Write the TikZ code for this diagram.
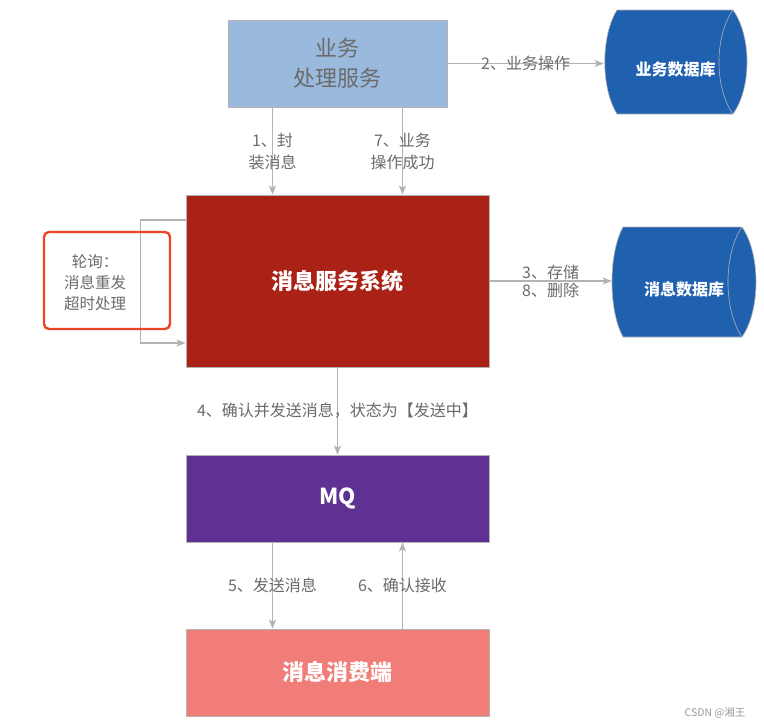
\documentclass[tikz,border=0pt]{standalone}
\usepackage{fontspec}
\setmainfont{Noto Sans CJK SC}
\usetikzlibrary{arrows.meta}
\definecolor{bizblue}{HTML}{99BADD}
\definecolor{svcred}{HTML}{AA2116}
\definecolor{mqpurple}{HTML}{5E3192}
\definecolor{consred}{HTML}{F07D78}
\definecolor{dbblue}{HTML}{1F60AF}
\definecolor{linegray}{HTML}{B3B3B3}
\definecolor{txtgray}{HTML}{6B6B6B}
\definecolor{alertred}{HTML}{EE4426}
\begin{document}
\begin{tikzpicture}[x=1pt,y=-1pt,
  box/.style={draw=linegray, line width=0.8pt, minimum width=303pt, minimum height=87pt, inner sep=0pt, text=white, font=\fontsize{22}{26}\selectfont\bfseries},
  lbl/.style={text=txtgray, align=center, font=\fontsize{16}{22}\selectfont},
  arr/.style={draw=linegray, line width=1.2pt, ->, >={Stealth[length=9pt,width=7pt,inset=2pt]}},
  dbtxt/.style={minimum height=104pt, inner sep=0pt, text=white, font=\fontsize{16}{20}\selectfont\bfseries},
  cyl/.style={fill=dbblue, draw=linegray, line width=0.6pt}]
    \fill[white] (0,0) rectangle (764,728);
    \filldraw[cyl] (617,10) -- (733,10) .. controls (751.7,36) and (751.7,88) .. (733,114) -- (617,114) .. controls (600.7,88) and (600.7,36) .. (617,10) -- cycle;
    \draw[linegray, line width=0.6pt] (733,10) .. controls (714.3,36) and (714.3,88) .. (733,114);
    \filldraw[cyl] (623,227) -- (742,227) .. controls (760.7,254) and (760.7,310) .. (742,337) -- (623,337) .. controls (608.3,310) and (608.3,254) .. (623,227) -- cycle;
    \draw[linegray, line width=0.6pt] (742,227) .. controls (723.3,254) and (723.3,310) .. (742,337);
    \node[dbtxt, minimum width=143pt] (bizdb) at (675.5,62) {\raisebox{-7pt}[\height][\depth]{业务数据库}};
    \node[dbtxt, minimum width=144pt] (msgdb) at (684,282) {\raisebox{-7pt}[\height][\depth]{消息数据库}};
    \node[box, fill=bizblue, minimum width=219pt, text=txtgray, align=center, font=\fontsize{22}{30}\selectfont] (biz) at (337.5,63.5) {业务\\处理服务};
    \node[box, fill=svcred, minimum height=172pt] (svc) at (337.5,281) {消息服务系统};
    \node[box, fill=mqpurple] (mq) at (337.5,498.5) {MQ};
    \node[box, fill=consred] (cons) at (337.5,672.5) {消息消费端};
    \draw[arr] ([xshift=-65pt]biz.south) -- node[lbl]{1、封\\装消息} ([xshift=-65pt]svc.north);
    \draw[arr] ([xshift=65pt]biz.south) -- node[lbl]{7、业务\\操作成功} ([xshift=65pt]svc.north);
    \draw[arr] (biz.east) -- node[lbl]{2、业务操作} (biz.east -| bizdb.west);
    \draw[arr] (svc.east) -- node[lbl, above, inner sep=1pt]{3、存储} node[lbl, below, inner sep=1pt]{8、删除} (svc.east -| msgdb.west);
    \draw[arr] (svc.south) -- node[lbl]{4、确认并发送消息，状态为【发送中】} (mq.north);
    \draw[arr] ([xshift=-65pt]mq.south) -- node[lbl]{5、发送消息} ([xshift=-65pt]cons.north);
    \draw[arr] ([xshift=65pt]cons.north) -- node[lbl]{6、确认接收} ([xshift=65pt]mq.south);
    \draw[arr] ([yshift=61pt]svc.west) -- ++(-45,0) |- ([yshift=-62pt]svc.west);
    \node[draw=alertred, line width=2.4pt, rounded corners=5pt, minimum width=126pt, minimum height=97pt] (pollbox) at (107,280.5) {};
    \node[lbl, font=\fontsize{15.5}{21}\selectfont] (polltxt) at (95,283) {轮询：\\消息重发\\超时处理};
    \node[text=gray!80, font=\fontsize{10.5}{12}\selectfont] (mark) at (715,713) {CSDN @湘王};
  \end{tikzpicture}
\end{document}
